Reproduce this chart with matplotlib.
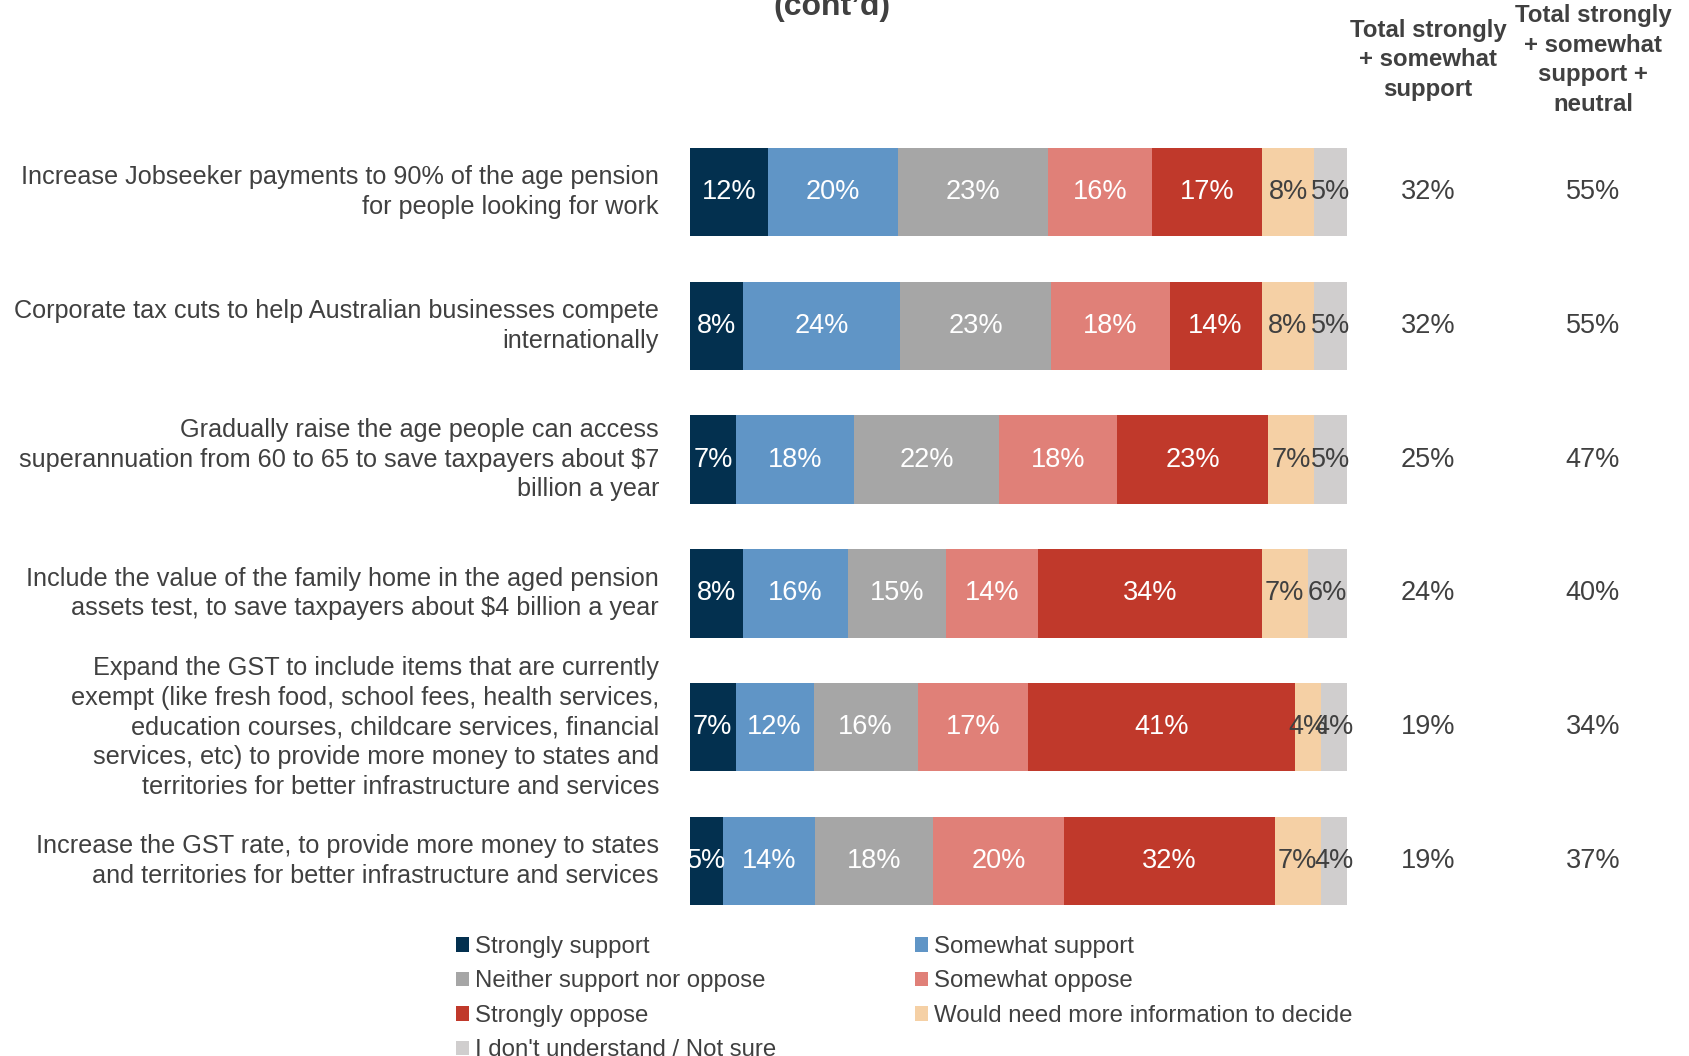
import matplotlib
matplotlib.use("Agg")
import matplotlib.pyplot as plt
from matplotlib.patches import Patch
import matplotlib.transforms as mtransforms

plt.rcParams['font.family'] = ['Liberation Sans', 'DejaVu Sans']

categories = [
    "Increase Jobseeker payments to 90% of the age pension\nfor people looking for work",
    "Corporate tax cuts to help Australian businesses compete\ninternationally",
    "Gradually raise the age people can access\nsuperannuation from 60 to 65 to save taxpayers about $7\nbillion a year",
    "Include the value of the family home in the aged pension\nassets test, to save taxpayers about $4 billion a year",
    "Expand the GST to include items that are currently\nexempt (like fresh food, school fees, health services,\neducation courses, childcare services, financial\nservices, etc) to provide more money to states and\nterritories for better infrastructure and services",
    "Increase the GST rate, to provide more money to states\nand territories for better infrastructure and services",
]
series_names = [
    "Strongly support", "Somewhat support", "Neither support nor oppose",
    "Somewhat oppose", "Strongly oppose", "Would need more information to decide",
    "I don't understand / Not sure",
]
strongly_support = [12, 8, 7, 8, 7, 5]
somewhat_support = [20, 24, 18, 16, 12, 14]
neither = [23, 23, 22, 15, 16, 18]
somewhat_oppose = [16, 18, 18, 14, 17, 20]
strongly_oppose = [17, 14, 23, 34, 41, 32]
need_info = [8, 8, 7, 7, 4, 7]
not_sure = [5, 5, 5, 6, 4, 4]
total_support = [32, 32, 25, 24, 19, 19]
total_support_neutral = [55, 55, 47, 40, 34, 37]

series = [strongly_support, somewhat_support, neither, somewhat_oppose,
          strongly_oppose, need_info, not_sure]
colors = ["#03304F", "#6095C6", "#A6A6A6", "#E08078", "#C0392B", "#F5D0A5", "#D0CECE"]
label_colors = ["white", "white", "white", "white", "white", "#404040", "#404040"]
txt = "#404040"

W, H = 1690, 1056
fig = plt.figure(figsize=(W / 100, H / 100), dpi=100)
left, right = 690, 1347
top, bottom = 125, 928
ax = fig.add_axes([left / W, 1 - bottom / H, (right - left) / W, (bottom - top) / H])

n = len(categories)
ypos = list(range(n))
row_tot = [sum(s[i] for s in series) for i in range(n)]
cum = [0.0] * n
for vals, c, lc in zip(series, colors, label_colors):
    widths = [v * 100.0 / row_tot[i] for i, v in enumerate(vals)]
    ax.barh(ypos, widths, left=cum, height=0.66, color=c, edgecolor='none')
    for i, v in enumerate(vals):
        ax.text(cum[i] + widths[i] / 2, i, f"{v}%", ha='center', va='center',
                color=lc, fontsize=19.5)
    cum = [a + b for a, b in zip(cum, widths)]

ax.set_xlim(0, 100)
ax.set_ylim(n - 0.5, -0.5)
ax.axis('off')

trans = mtransforms.blended_transform_factory(fig.transFigure, ax.transData)
for i, cat in enumerate(categories):
    ax.text(659 / W, i, cat, transform=trans, ha='right', va='center',
            multialignment='right', fontsize=18.2, color=txt, linespacing=1.3)
    ax.text(1428 / W, i, f"{total_support[i]}%", transform=trans, ha='center',
            va='center', fontsize=19.5, color=txt)
    ax.text(1593 / W, i, f"{total_support_neutral[i]}%", transform=trans, ha='center',
            va='center', fontsize=19.5, color=txt)

fig.text(832 / W, 1 - 7 / H, "(cont\u2019d)", ha='center', va='center',
         fontsize=23, fontweight='bold', color=txt)
fig.text(1428 / W, 1 - 60 / H, "Total strongly\n+ somewhat\nsupport", ha='center',
         va='center', fontsize=17.3, fontweight='bold', color=txt, linespacing=1.37)
fig.text(1593 / W, 1 - 60 / H, "Total strongly\n+ somewhat\nsupport +\nneutral", ha='center',
         va='center', fontsize=17.3, fontweight='bold', color=txt, linespacing=1.37)

handles = [Patch(facecolor=c, edgecolor='none', label=s) for s, c in zip(series_names, colors)]
order = [0, 2, 4, 6, 1, 3, 5]
leg = fig.legend([handles[k] for k in order], [series_names[k] for k in order],
                 ncol=2, loc='upper left', bbox_to_anchor=(456 / W, 1 - 936 / H),
                 frameon=False, fontsize=17.3, handlelength=0.55, handleheight=0.55,
                 handletextpad=0.25, labelspacing=0.52, columnspacing=5.75,
                 borderpad=0, borderaxespad=0)
for t in leg.get_texts():
    t.set_color(txt)

fig.savefig("out.png", dpi=100, facecolor='white')
